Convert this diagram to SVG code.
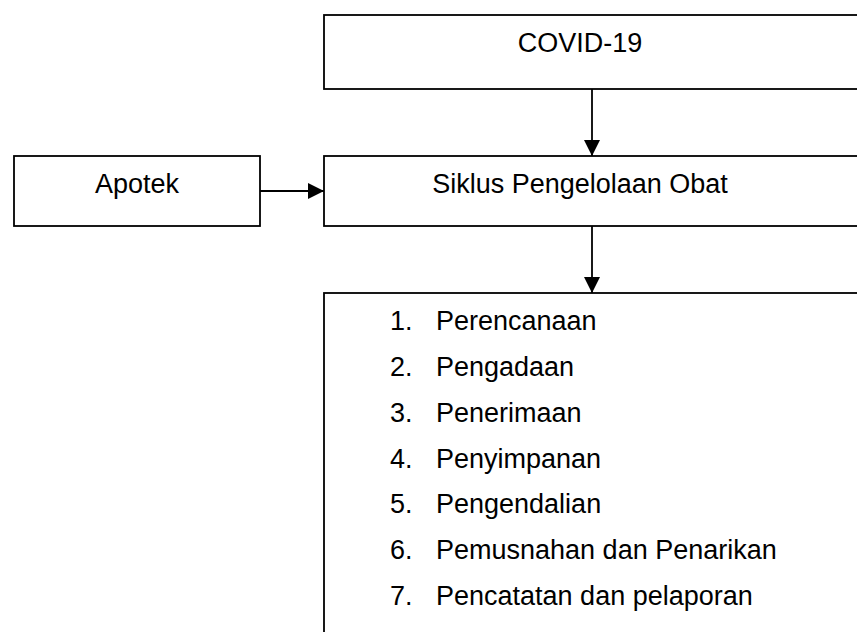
<svg xmlns="http://www.w3.org/2000/svg" width="857" height="632" viewBox="0 0 857 632">
<style>
.box{fill:#fff;stroke:#000;stroke-width:1.8}
.t{font-family:"Liberation Sans",Arial,sans-serif;font-size:27px;fill:#000}
.c{text-anchor:middle}
.conn{stroke:#000;stroke-width:1.8;fill:none}
</style>
<defs>
<marker id="ah" markerUnits="userSpaceOnUse" markerWidth="16" markerHeight="16" viewBox="0 0 16 16" refX="16" refY="8" orient="auto">
<path d="M0,0 L16,8 L0,16 Z" fill="#000"/>
</marker>
</defs>
<rect width="857" height="632" fill="#fff"/>
<g id="covid">
<rect class="box" x="324" y="15" width="560" height="74"/>
<text class="t c" x="580" y="52">COVID-19</text>
</g>
<g id="apotek">
<rect class="box" x="14" y="156" width="246" height="70"/>
<text class="t c" x="137" y="193">Apotek</text>
</g>
<g id="siklus">
<rect class="box" x="324" y="156" width="560" height="70"/>
<text class="t c" x="580" y="193">Siklus Pengelolaan Obat</text>
</g>
<g id="tahapan">
<rect class="box" x="324" y="293" width="560" height="360"/>
<g class="t">
<text x="390" y="330">1.</text><text x="436" y="330">Perencanaan</text>
<text x="390" y="376">2.</text><text x="436" y="376">Pengadaan</text>
<text x="390" y="422">3.</text><text x="436" y="422">Penerimaan</text>
<text x="390" y="468">4.</text><text x="436" y="468">Penyimpanan</text>
<text x="390" y="513">5.</text><text x="436" y="513">Pengendalian</text>
<text x="390" y="559">6.</text><text x="436" y="559">Pemusnahan dan Penarikan</text>
<text x="390" y="605">7.</text><text x="436" y="605">Pencatatan dan pelaporan</text>
</g>
</g>
<g id="connectors">
<line class="conn" x1="592" y1="89" x2="592" y2="156" marker-end="url(#ah)"/>
<line class="conn" x1="260" y1="191" x2="324" y2="191" marker-end="url(#ah)"/>
<line class="conn" x1="592" y1="226" x2="592" y2="293" marker-end="url(#ah)"/>
</g>
</svg>
